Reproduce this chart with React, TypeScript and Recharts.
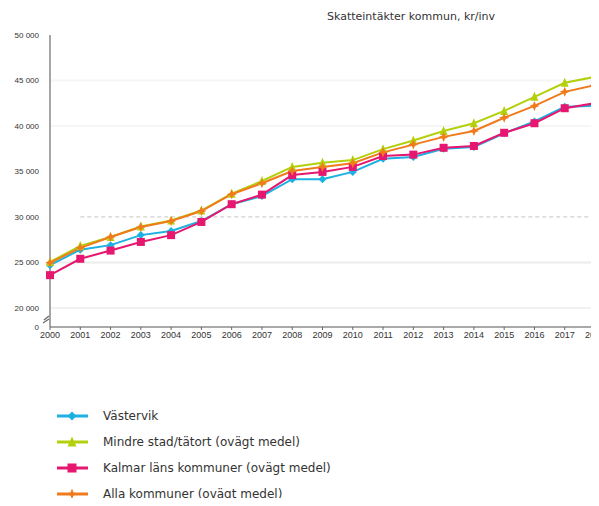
import { LineChart, Line, XAxis, YAxis, ReferenceLine } from "recharts";

const years = ["2000", "2001", "2002", "2003", "2004", "2005", "2006", "2007", "2008", "2009",
    "2010", "2011", "2012", "2013", "2014", "2015", "2016", "2017", "2018"];

const vastervik = [24700, 26400, 26900, 28000, 28450, 29550, 31400, 32300, 34150, 34150,
    34950, 36400, 36600, 37500, 37700, 39200, 40500, 42100, 42200];
const mindreStad = [25050, 26800, 27800, 28950, 29600, 30700, 32550, 33950, 35500, 35950,
    36250, 37450, 38400, 39450, 40300, 41650, 43200, 44750, 45400];
const kalmarLan = [23600, 25400, 26300, 27250, 28000, 29450, 31400, 32450, 34600, 34950,
    35500, 36700, 36850, 37600, 37800, 39250, 40300, 41950, 42500];
const allaKommuner = [24950, 26600, 27800, 28900, 29550, 30650, 32500, 33700, 35050, 35500,
    35900, 37100, 37950, 38800, 39450, 40900, 42200, 43750, 44500];

// bottom of the broken axis, labelled "0"
const AXIS_BASE = 17900;
const yTicks = [AXIS_BASE, 20000, 25000, 30000, 35000, 40000, 45000, 50000];

const data = years.map((year, i) => ({
    year,
    vastervik: vastervik[i],
    mindreStad: mindreStad[i],
    kalmarLan: kalmarLan[i],
    allaKommuner: allaKommuner[i],
}));

const series = [
    { key: "vastervik", name: "Västervik", color: "#1cb1e2", shape: "diamond" },
    { key: "mindreStad", name: "Mindre stad/tätort (ovägt medel)", color: "#b4d00c", shape: "triangle" },
    { key: "kalmarLan", name: "Kalmar läns kommuner (ovägt medel)", color: "#e5176f", shape: "square" },
    { key: "allaKommuner", name: "Alla kommuner (ovägt medel)", color: "#f07a1c", shape: "star" },
];

function Marker({ cx, cy, shape, color, size = 4 }: any) {
    if (cx == null || cy == null) return null;
    const s = size;
    if (shape === "square") {
        return <rect x={cx - s} y={cy - s} width={s * 2} height={s * 2} fill={color} />;
    }
    if (shape === "triangle") {
        return <polygon points={`${cx},${cy - s - 1} ${cx + s},${cy + s} ${cx - s},${cy + s}`} fill={color} />;
    }
    if (shape === "star") {
        return (
            <polygon
                points={`${cx},${cy - s - 1} ${cx + 1.5},${cy - 1.5} ${cx + s + 1},${cy} ${cx + 1.5},${cy + 1.5} ${cx},${cy + s + 1} ${cx - 1.5},${cy + 1.5} ${cx - s - 1},${cy} ${cx - 1.5},${cy - 1.5}`}
                fill={color}
            />
        );
    }
    return <polygon points={`${cx},${cy - s} ${cx + s},${cy} ${cx},${cy + s} ${cx - s},${cy}`} fill={color} />;
}

const fmtY = (v: number) => (v === AXIS_BASE ? "0" : `${Math.round(v / 1000)} 000`);

function YTick({ x, y, payload }: any) {
    const isBase = payload.value === AXIS_BASE;
    return (
        <g>
            <text x={x - 3} y={y + 3} textAnchor="end" fontSize={8} fill="#333" fontFamily="Liberation Sans, Arial">
                {fmtY(payload.value)}
            </text>
            {isBase && (
                <g>
                    <rect x={x + 1} y={y - 11} width={6} height={4} fill="#fff" />
                    <path d={`M ${x + 2} ${y - 7} L ${x + 7} ${y - 11}`} stroke="#666" strokeWidth={1.2} fill="none" />
                    <path d={`M ${x + 1} ${y - 4} L ${x + 7} ${y - 8}`} stroke="#666" strokeWidth={1.2} fill="none" />
                </g>
            )}
        </g>
    );
}

function ChartLegend() {
    return (
        <div
            style={{
                position: "absolute",
                left: 55,
                top: 403,
                fontFamily: "DejaVu Sans, sans-serif",
                fontSize: 12,
                color: "#333",
            }}
        >
            {series.map((s) => (
                <div key={s.key} style={{ display: "flex", alignItems: "center", height: 26 }}>
                    <svg width={40} height={14} style={{ marginRight: 8 }}>
                        <line x1={2} y1={7} x2={33} y2={7} stroke={s.color} strokeWidth={3} />
                        <Marker cx={17} cy={7} shape={s.shape} color={s.color} size={4.5} />
                    </svg>
                    <span>{s.name}</span>
                </div>
            ))}
        </div>
    );
}

export default function App() {
    return (
        <div style={{ margin: -8, width: 599, height: 506, overflow: "hidden", position: "relative", background: "#fff" }}>
            <div
                style={{
                    position: "absolute",
                    left: 327,
                    top: 10,
                    fontFamily: "DejaVu Sans, sans-serif",
                    fontSize: 11,
                    color: "#333",
                    whiteSpace: "nowrap",
                }}
            >
                Skatteintäkter kommun, kr/inv
            </div>
            <LineChart
                width={640}
                height={360}
                data={data}
                margin={{ top: 35, right: 45, left: 0, bottom: 13 }}
            >
                <ReferenceLine y={20000} stroke="#f1f1f1" strokeWidth={2} />
                <ReferenceLine y={25000} stroke="#ececec" strokeWidth={2} />
                <ReferenceLine y={40000} stroke="#f6f6f6" strokeWidth={2} />
                <ReferenceLine y={45000} stroke="#f6f6f6" strokeWidth={2} />
                <ReferenceLine
                    segment={[{ x: "2001", y: 30000 }, { x: "2018", y: 30000 }]}
                    stroke="#c4c4c4"
                    strokeDasharray="4 3"
                />
                <XAxis
                    dataKey="year"
                    tick={{ fontSize: 9, fill: "#333", fontFamily: "Liberation Sans, Arial" }}
                    tickSize={3}
                    tickLine={{ stroke: "#666" }}
                    axisLine={{ stroke: "#555", strokeWidth: 1.2 }}
                    height={20}
                    interval={0}
                />
                <YAxis
                    type="number"
                    domain={[AXIS_BASE, 50000]}
                    ticks={yTicks}
                    tick={<YTick />}
                    tickLine={false}
                    axisLine={{ stroke: "#888", strokeWidth: 1.5 }}
                    width={50}
                    interval={0}
                    allowDataOverflow
                />
                {series.map((s) => (
                    <Line
                        key={s.key}
                        dataKey={s.key}
                        name={s.name}
                        stroke={s.color}
                        strokeWidth={2}
                        isAnimationActive={false}
                        dot={(p: any) => <Marker key={`${s.key}-${p.index}`} cx={p.cx} cy={p.cy} shape={s.shape} color={s.color} />}
                        activeDot={false}
                    />
                ))}
            </LineChart>
            <ChartLegend />
        </div>
    );
}
